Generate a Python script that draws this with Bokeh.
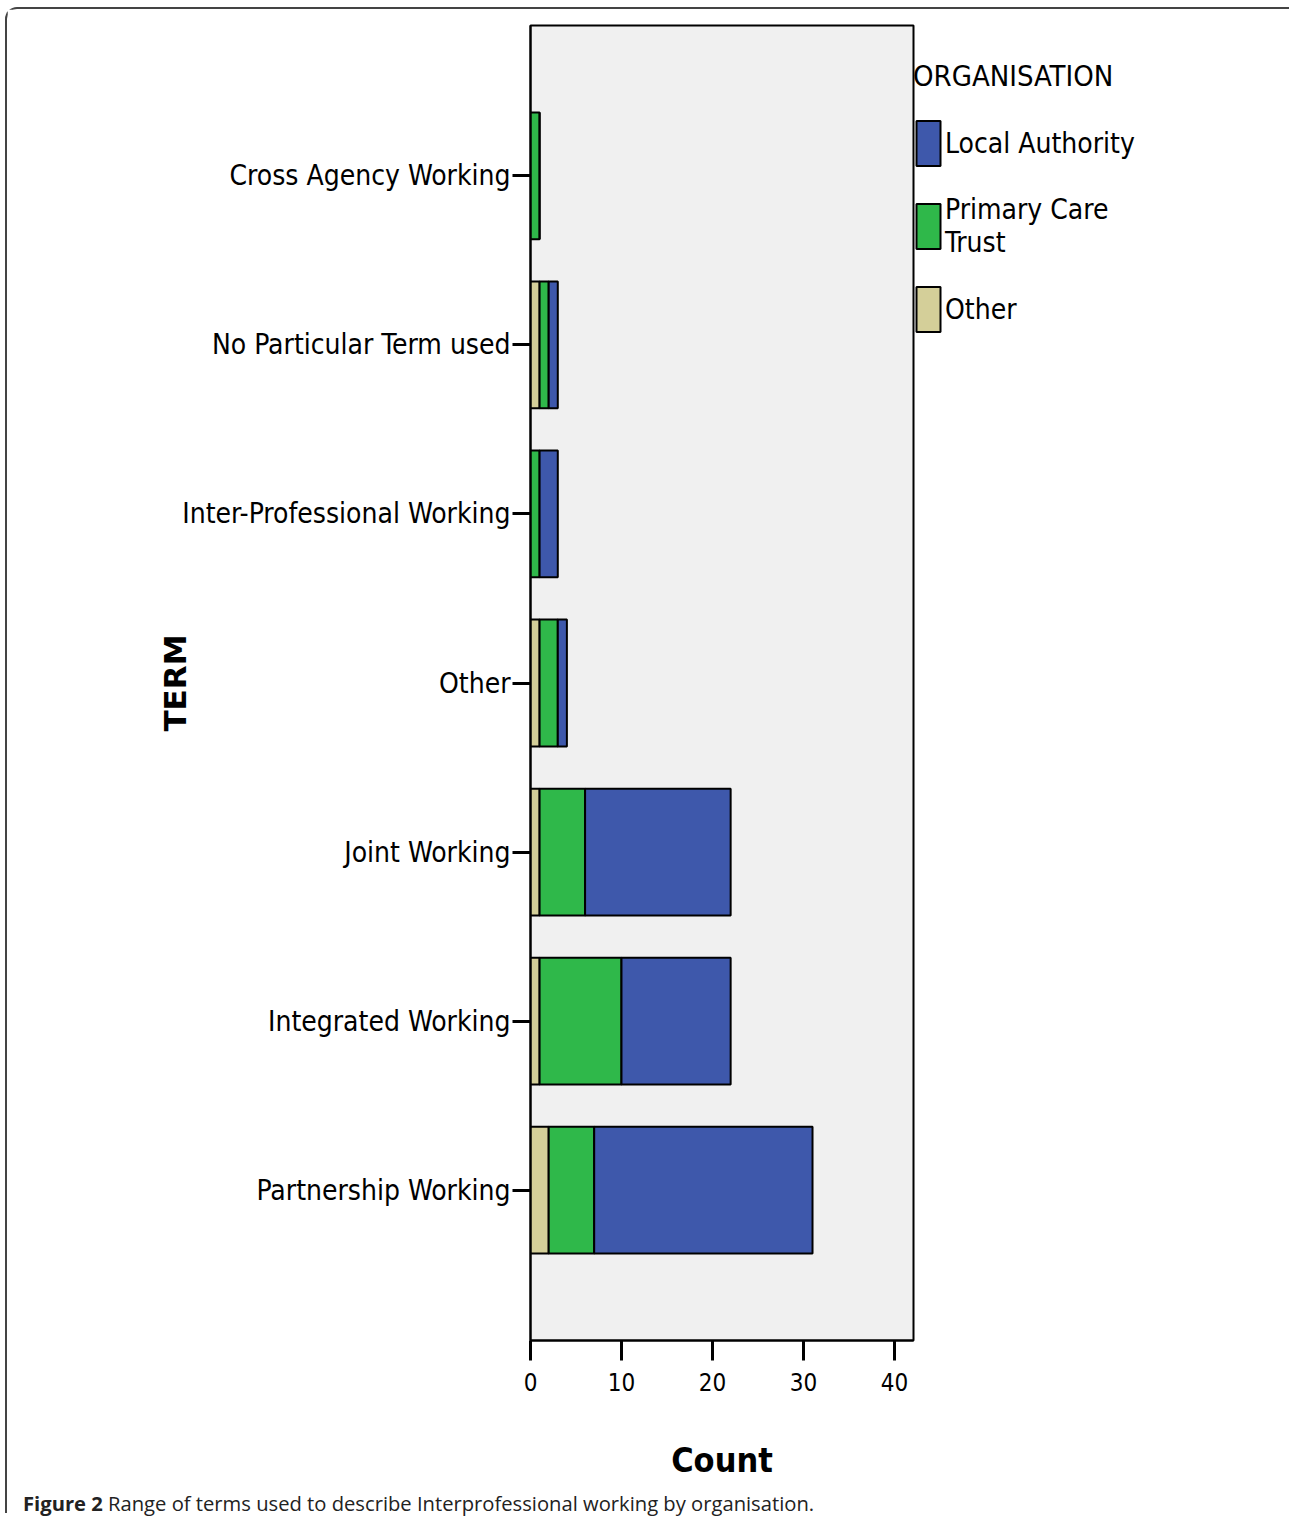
from bokeh.plotting import figure
from bokeh.models import (FactorRange, Range1d, Legend, LegendItem, Div, Column,
                          FixedTicker, ColumnDataSource)
from bokeh.embed import file_html
from bokeh.resources import INLINE

# ---- data (bottom to top) ----
terms = ["Partnership Working", "Integrated Working", "Joint Working", "Other",
         "Inter-Professional Working", "No Particular Term used", "Cross Agency Working"]
other_org = [2, 1, 1, 1, 0, 1, 0]
primary_care_trust = [5, 9, 5, 2, 1, 1, 1]
local_authority = [24, 12, 16, 1, 2, 1, 0]
x_ticks = [0, 10, 20, 30, 40]

TAN = "#D4CF99"
GREEN = "#2FB84A"
BLUE = "#3E58AB"
NARROW = "DejaVu Sans Condensed, Liberation Sans, sans-serif"

source = ColumnDataSource(dict(term=terms, other=other_org, pct=primary_care_trust,
                               la=local_authority))

p = figure(y_range=FactorRange(factors=terms, range_padding=0.39,
                               range_padding_units="absolute"),
           x_range=Range1d(0, 42.1),
           frame_width=383, frame_height=1315,
           output_backend="svg", toolbar_location=None,
           min_border_left=523, min_border_right=0, min_border_top=16,
           min_border_bottom=149)

p.background_fill_color = "#F0F0F0"
p.border_fill_color = "white"
p.outline_line_color = "black"
p.outline_line_width = 2
p.xgrid.visible = False
p.ygrid.visible = False

rs = p.hbar_stack(["other", "pct", "la"], y="term", height=0.75,
                  color=[TAN, GREEN, BLUE], line_color="black", line_width=2,
                  source=source)

# y axis
ya = p.yaxis[0]
ya.axis_label = "TERM"
ya.axis_label_text_font = "DejaVu Sans"
ya.axis_label_text_font_style = "bold"
ya.axis_label_text_font_size = "31px"
ya.axis_label_text_color = "black"
ya.axis_label_standoff = -14
ya.major_label_text_font = NARROW
ya.major_label_text_font_size = "28px"
ya.major_label_text_color = "black"
ya.major_label_standoff = 2
ya.major_tick_out = 18
ya.major_tick_in = 0
ya.major_tick_line_width = 3
ya.axis_line_width = 2

# x axis
xa = p.xaxis[0]
xa.ticker = FixedTicker(ticks=x_ticks)
xa.axis_label = "Count"
xa.axis_label_text_font = NARROW
xa.axis_label_text_font_style = "bold"
xa.axis_label_text_font_size = "34px"
xa.axis_label_text_color = "black"
xa.axis_label_standoff = 46
xa.major_label_text_font = NARROW
xa.major_label_text_font_size = "24px"
xa.major_label_text_color = "black"
xa.major_label_standoff = 12
xa.major_tick_out = 20
xa.major_tick_in = 0
xa.major_tick_line_width = 3
xa.minor_tick_line_color = None
xa.axis_line_width = 2

legend = Legend(items=[
    LegendItem(label="Local Authority", renderers=[rs[2]]),
    LegendItem(label="Primary Care\nTrust", renderers=[rs[1]]),
    LegendItem(label="Other", renderers=[rs[0]]),
], title="\nORGANISATION", location="top_left")
legend.title_text_font = NARROW
legend.title_text_font_size = "29px"
legend.title_text_font_style = "normal"
legend.title_text_color = "black"
legend.title_text_line_height = 0.95
legend.title_standoff = 22
legend.label_text_font = NARROW
legend.label_text_font_size = "28px"
legend.label_text_color = "black"
legend.label_text_line_height = 1.15
legend.glyph_width = 30
legend.glyph_height = 56
legend.label_standoff = 2
legend.spacing = 22
legend.padding = 0
legend.margin = 0
legend.border_line_color = None
legend.background_fill_alpha = 0
p.add_layout(legend, "right")

caption = Div(text='<b>Figure 2</b> Range of terms used to describe Interprofessional working by organisation.',
              width=1265, height=24, margin=(0, 0, 0, 16),
              styles={"font-family": "Open Sans", "font-size": "20.2px", "color": "#222",
                      "white-space": "nowrap"})

layout = Column(p, caption, spacing=0, margin=(7, 0, 0, 5),
                styles={"border-top": "2px solid #444", "border-left": "2px solid #444",
                        "border-right": "2px solid #444",
                        "border-top-left-radius": "12px", "border-top-right-radius": "12px"})

open("out.html", "w").write(file_html(layout, INLINE))
